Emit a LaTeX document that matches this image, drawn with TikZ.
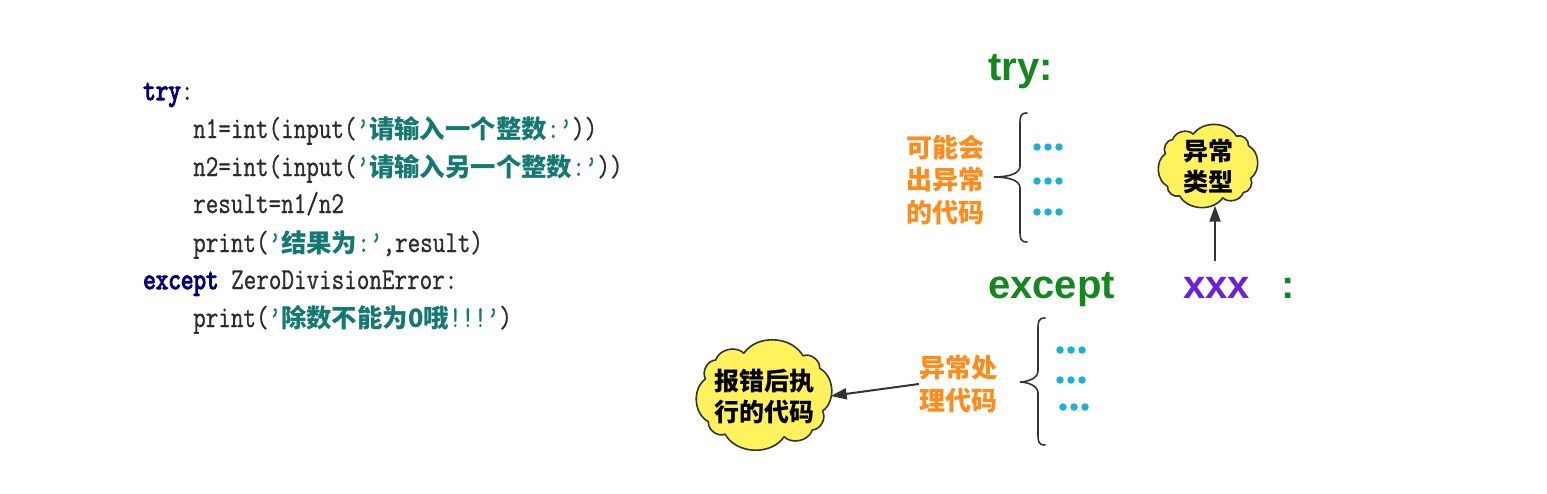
\documentclass[tikz,border=0pt]{standalone}
\usepackage{fontspec}
\usetikzlibrary{arrows.meta}
\newfontfamily\cjk{Noto Sans CJK SC}
\newfontfamily\codefont{Latin Modern Mono}[FakeStretch=0.8,FakeBold=0.8]
\newfontfamily\codeboldfont{Latin Modern Mono}[FakeStretch=0.8,FakeBold=3.5]
\newfontfamily\sansfont{Liberation Sans}
\definecolor{codegray}{HTML}{2B2B2B}
\definecolor{kwnavy}{HTML}{000080}
\definecolor{strteal}{HTML}{147873}
\definecolor{kwgreen}{HTML}{14871E}
\definecolor{xpurple}{HTML}{6B22D6}
\definecolor{lblorange}{HTML}{FF8C1A}
\definecolor{dotcyan}{HTML}{1BB0D8}
\definecolor{cloudyellow}{HTML}{FFF25C}
\definecolor{inkgray}{HTML}{333333}
\newcommand\kw[1]{{\codeboldfont\color{kwnavy}#1}}
\newcommand\str[1]{{\color{strteal}#1}}
\newcommand\zh[1]{{\cjk\bfseries\fontsize{25.4}{27}\selectfont #1}}
% cloud outline: #1 name, #2 cx, #3 cy, #4 a, #5 b
\newcommand\puffcloud[5]{%
  \foreach \k in {0,...,9}{%
    \pgfmathsetmacro\ang{10+36*\k}%
    \coordinate (#1p\k) at ({#2+#4*sign(cos(\ang))*pow(abs(cos(\ang)),0.55)},{#3+#5*sign(sin(\ang))*pow(abs(sin(\ang)),0.55)});%
  }%
  \draw[cloudline] (#1p0) \foreach \k in {1,...,9}{ to[bend left=58] (#1p\k) } to[bend left=58] (#1p0) -- cycle;%
}
\begin{document}
\begin{tikzpicture}[x=1pt,y=-1pt,
  code/.style={anchor=base west,inner sep=0pt,text=codegray,font=\codefont\fontsize{30.5}{32}\selectfont},
  bigkw/.style={anchor=base west,inner sep=0pt,font=\sansfont\bfseries\fontsize{40}{44}\selectfont},
  orangelbl/.style={inner sep=0pt,align=left,text=lblorange,font=\cjk\bfseries\fontsize{26}{32.5}\selectfont},
  cloudline/.style={draw=inkgray,line width=1.6pt,fill=cloudyellow,line join=round},
  bubble/.style={rectangle,inner sep=0pt,align=center,text=black,font=\cjk\bfseries\fontsize{25}{31}\selectfont},
  dotnode/.style={circle,fill=dotcyan,inner sep=0pt,minimum size=7.5pt},
  bracestyle/.style={draw=inkgray,line width=1.6pt,line cap=round},
  arr/.style={draw=inkgray,line width=2pt,-{Triangle[length=16pt,width=11pt]}}
]
\useasboundingbox[fill=white] (0,0) rectangle (1547,493);

% ---- code ----
\node[code] (l1) at (143,100) {\kw{try}:};
\node[code] (l2) at (193,138) {n1=int(input(\str{’\zh{请输入一个整数}:’}))};
\node[code] (l3) at (193,176) {n2=int(input(\str{’\zh{请输入另一个整数}:’}))};
\node[code] (l4) at (193,213) {result=n1/n2};
\node[code] (l5) at (193,252) {print(\str{’\zh{结果为}:’},result)};
\node[code] (l6) at (143,289) {\kw{except} ZeroDivisionError:};
\node[code] (l7) at (193,327) {print(\str{’\zh{除数不能为0哦}!!!’})};

% ---- diagram ----
\node[bigkw,text=kwgreen] (try) at (988,80) {try:};
\node[bigkw,text=kwgreen] (except) at (988,298) {except};
\node[bigkw,text=xpurple] (xxx) at (1183,298) {xxx};
\node[bigkw,text=kwgreen] (colon) at (1281,298) {:};

\node[orangelbl] (lbl1) at (945,180) {可能会\\出异常\\的代码};
\node[orangelbl] (lbl2) at (958,384) {异常处\\理代码};

% clouds
\puffcloud{k1}{1208}{166}{43}{32}
\node[bubble,minimum width=100pt,minimum height=79pt] (c1) at (1208,166) {异常\\类型};
\puffcloud{k2}{764}{395}{59}{42}
\node[bubble,minimum width=133pt,minimum height=100pt] (c2) at (764,396) {报错后执\\行的代码};

% braces
\draw[bracestyle] (1027,113) .. controls (1020,113) and (1020,117) .. (1020,125)
  -- (1020,166) .. controls (1020,174) and (1008,177) .. (994,177)
  .. controls (1008,177) and (1020,180) .. (1020,188)
  -- (1020,230) .. controls (1020,238) and (1020,242) .. (1027,242);
\draw[bracestyle] (1045,318) .. controls (1038,318) and (1038,322) .. (1038,330)
  -- (1038,371) .. controls (1038,379) and (1026,382) .. (1020,382)
  .. controls (1026,382) and (1038,385) .. (1038,393)
  -- (1038,433) .. controls (1038,441) and (1038,445) .. (1045,445);

% dots
\foreach \r/\x/\y in {a/1037/147,b/1037/181,c/1037/212,d/1060/350,e/1060/380,f/1063/407}{
  \foreach \i in {0,1,2}{
    \node[dotnode] (dot\r\i) at ({\x+11*\i},\y) {};
  }
}

% arrows
\coordinate (a1) at (1215,261);
\draw[arr] (a1) -- (a1 |- c1.south);
\draw[arr] (lbl2.west) -- (c2.east);
\end{tikzpicture}
\end{document}
